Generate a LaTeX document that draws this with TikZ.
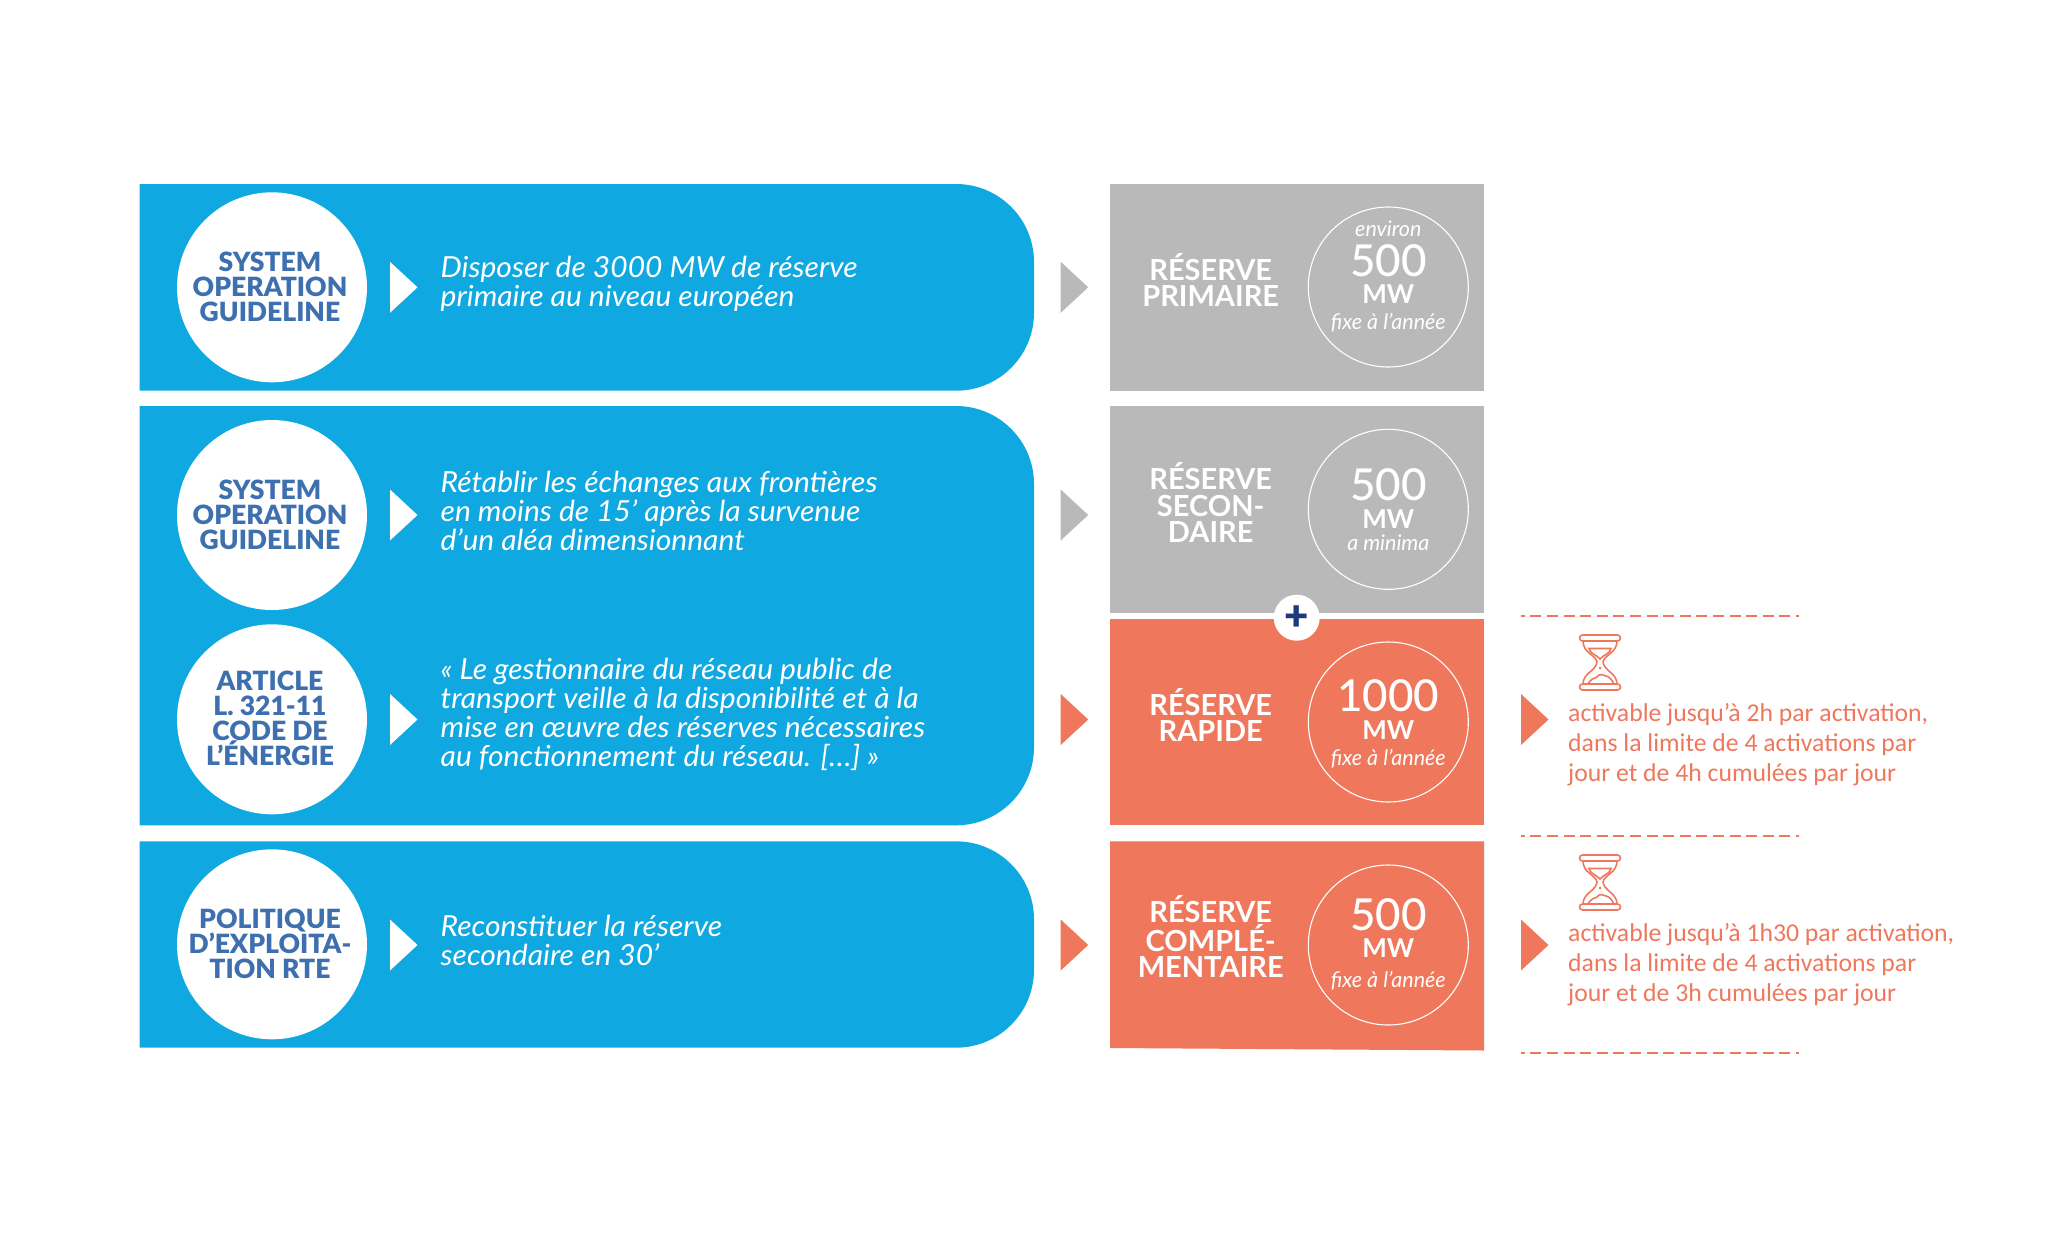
\documentclass[tikz,border=0pt]{standalone}
\usepackage{fontspec}
\setmainfont{Lato}
\newfontfamily\goalfont{Lato}[FakeStretch=1.035]
\newfontfamily\headfont{Lato Black}
\newfontfamily\amountfont{Lato Medium}
\newfontfamily\notefont{Carlito}
\definecolor{rteblue}{HTML}{10A8E0}
\definecolor{rteink}{HTML}{3E6FAF}
\definecolor{rtegrey}{HTML}{B9B9B9}
\definecolor{rteorange}{HTML}{EE775C}
\definecolor{rtenavy}{HTML}{1C3A7C}
\tikzset{
  x=1pt,y=-1pt,
  disc/.style={circle,fill=white,inner sep=0pt,minimum size=190pt},
  source/.style={inner sep=0pt,text=rteink,align=center,font=\headfont\fontsize{26.5}{25}\selectfont},
  goal/.style={anchor=base west,inner sep=0pt,align=left,text=white,font=\goalfont\fontsize{29}{29}\selectfont\itshape},
  resname/.style={anchor=base,inner sep=0pt,align=center,text=white,font=\fontsize{29}{26.5}\selectfont\bfseries},
  rescircle/.style={circle,draw=white,line width=1.1pt,inner sep=0pt,minimum size=160pt},
  amount/.style={anchor=base,inner sep=0pt,text=white,font=\amountfont\fontsize{44}{44}\selectfont},
  unit/.style={anchor=base,inner sep=0pt,text=white,font=\fontsize{26}{26}\selectfont\bfseries},
  resnote/.style={anchor=base,inner sep=0pt,text=white,font=\fontsize{21.5}{21.5}\selectfont\itshape},
  limit/.style={anchor=base west,inner sep=0pt,align=left,text=rteorange,font=\notefont\fontsize{25.7}{30}\selectfont},
  sep/.style={draw=rteorange,line width=1.7pt,dash pattern=on 11pt off 5.6pt,dash phase=7pt},
  hourglass/.pic={
    \draw[rteorange,line width=1.6pt,rounded corners=3pt] (-20.5,-28) rectangle (20.5,-22);
    \draw[rteorange,line width=1.6pt,rounded corners=3pt] (-20.5,21) rectangle (20.5,27);
    \draw[rteorange,line width=1.6pt] (-17,-22) .. controls (-17,-10) and (-4,-8) .. (-3,-1) .. controls (-4,8) and (-17,10) .. (-17,21);
    \draw[rteorange,line width=1.6pt] (17,-22) .. controls (17,-10) and (4,-8) .. (3,-1) .. controls (4,8) and (17,10) .. (17,21);
    \draw[rteorange,line width=1.6pt] (-11,-14.5) -- (11,-14.5) .. controls (10,-9) and (3,-8) .. (0,-4) .. controls (-3,-8) and (-10,-9) .. (-11,-14.5) -- cycle;
    \fill[rteorange] (0,5) circle (1.5pt);
    \draw[rteorange,line width=1.6pt] (-12,21) .. controls (-9,15) and (-6,16) .. (-3,14) .. controls (0,10) and (2,12) .. (6,13) .. controls (10,14) and (12,17) .. (14,21);
  }
}
\newcommand{\pointer}[2]{\fill[#1] (#2) ++(0,-25.5) -- ++(27.5,25.5) -- ++(-27.5,25.5) -- cycle;}
\begin{document}
\begin{tikzpicture}
\useasboundingbox (0,0) rectangle (2064,1251);
% blue bands
\fill[rteblue] (139.5,184) [rounded corners=78pt] -- (1034,184) -- (1034,390.7) -- (800,390.7) [sharp corners] -- (139.5,390.7) -- cycle;
\fill[rteblue] (139.5,406) [rounded corners=78pt] -- (1034,406) -- (1034,825.3) -- (800,825.3) [sharp corners] -- (139.5,825.3) -- cycle;
\fill[rteblue] (139.5,841.3) [rounded corners=78pt] -- (1034,841.3) -- (1034,1047.7) -- (800,1047.7) [sharp corners] -- (139.5,1047.7) -- cycle;
% reserve boxes
\fill[rtegrey] (1110,184) rectangle (1484,390.7);
\fill[rtegrey] (1110,406) rectangle (1484,612.7);
\fill[rteorange] (1110,619) rectangle (1484,825.3);
\fill[rteorange] (1110,841.3) -- (1484,841.3) -- (1484,1050.5) -- (1110,1048) -- cycle;
% left circles
\node[disc] (d1) at (272,287.3) {};
\node[disc] (d2) at (272,515) {};
\node[disc] (d3) at (272,719.3) {};
\node[disc] (d4) at (272,944.3) {};
\node[source] (sog1) at (270,287.3) {SYSTEM\\OPERATION\\GUIDELINE};
\node[source] (sog2) at (270,515) {SYSTEM\\OPERATION\\GUIDELINE};
\node[source] (code) at (270,718) {ARTICLE\\L. 321-11\\CODE DE\\L’ÉNERGIE};
\node[source] (rte) at (270,944.3) {POLITIQUE\\D’EXPLOITA-\\TION RTE};
% pointers
\coordinate (w1) at (390,287.3);
\coordinate (w2) at (390,515);
\coordinate (w3) at (390,719.5);
\coordinate (w4) at (390,945);
\pointer{white}{w1}
\pointer{white}{w2}
\pointer{white}{w3}
\pointer{white}{w4}
\coordinate (m1) at (1060.7,287.3);
\coordinate (m2) at (1060.7,515);
\coordinate (m3) at (1060.7,719.5);
\coordinate (m4) at (1060.7,945);
\pointer{rtegrey}{m1}
\pointer{rtegrey}{m2}
\pointer{rteorange}{m3}
\pointer{rteorange}{m4}
\coordinate (r3) at (1521,719.5);
\coordinate (r4) at (1521,945);
\pointer{rteorange}{r3}
\pointer{rteorange}{r4}
% goals
\node[goal] (goal1) at (440.5,306.7) {Disposer de 3000 MW de réserve\\primaire au niveau européen};
\node[goal] (goal2) at (440.5,550.3) {Rétablir les échanges aux frontières\\en moins de 15’ après la survenue\\d’un aléa dimensionnant};
\node[goal] (goal3) at (440.5,766.7) {« Le gestionnaire du réseau public de\\transport veille à la disponibilité et à la\\mise en œuvre des réserves nécessaires\\au fonctionnement du réseau. […] »};
\node[goal] (goal4) at (440.5,965.7) {Reconstituer la réserve\\secondaire en 30’};
% reserve names
\node[resname] (prim) at (1210.7,306.7) {RÉSERVE\\PRIMAIRE};
\node[resname] (sec) at (1210.7,542.7) {RÉSERVE\\SECON-\\DAIRE};
\node[resname] (rap) at (1210.7,741.7) {RÉSERVE\\RAPIDE};
\node[resname] (comp) at (1210.7,977.7) {RÉSERVE\\COMPLÉ-\\MENTAIRE};
% reserve circles
\node[rescircle] (c1) at (1388.3,287) {};
\node[rescircle] (c2) at (1388.3,509.3) {};
\node[rescircle] (c3) at (1388.3,722) {};
\node[rescircle] (c4) at (1388.3,945) {};
\node[resnote] (env) at (1388.3,236.7) {environ};
\node[amount] (a1) at (1388.3,276) {500};
\node[unit] (u1) at (1388.3,303.3) {MW};
\node[resnote] (n1) at (1388.3,329.3) {fixe à l’année};
\node[amount] (a2) at (1388.3,500.7) {500};
\node[unit] (u2) at (1388.3,528.3) {MW};
\node[resnote] (n2) at (1388.3,550.7) {a minima};
\node[amount] (a3) at (1388.3,711) {1000};
\node[unit] (u3) at (1388.3,739) {MW};
\node[resnote] (n3) at (1388.3,765.7) {fixe à l’année};
\node[amount] (a4) at (1388.3,930.7) {500};
\node[unit] (u4) at (1388.3,957.7) {MW};
\node[resnote] (n4) at (1388.3,987.7) {fixe à l’année};
% plus
\node[circle,fill=white,text=rtenavy,inner sep=0pt,minimum size=46pt,font=\headfont\fontsize{42}{42}\selectfont] (plus) at (1296.7,617.7) {+};
% right column
\coordinate (d1a) at (1520.7,615.7);
\coordinate (d1b) at (1799,615.7);
\coordinate (d2a) at (1520.7,835.7);
\coordinate (d2b) at (1799,835.7);
\coordinate (d3a) at (1520.7,1053);
\coordinate (d3b) at (1799,1053);
\draw[sep] (d1a) -- (d1b);
\draw[sep] (d2a) -- (d2b);
\draw[sep] (d3a) -- (d3b);
\pic at (1600,663) {hourglass};
\pic at (1600,883) {hourglass};
\node[limit] (lim1) at (1568,781.7) {activable jusqu’à 2h par activation,\\dans la limite de 4 activations par\\jour et de 4h cumulées par jour};
\node[limit] (lim2) at (1568,1001.7) {activable jusqu’à 1h30 par activation,\\dans la limite de 4 activations par\\jour et de 3h cumulées par jour};
\end{tikzpicture}
\end{document}
